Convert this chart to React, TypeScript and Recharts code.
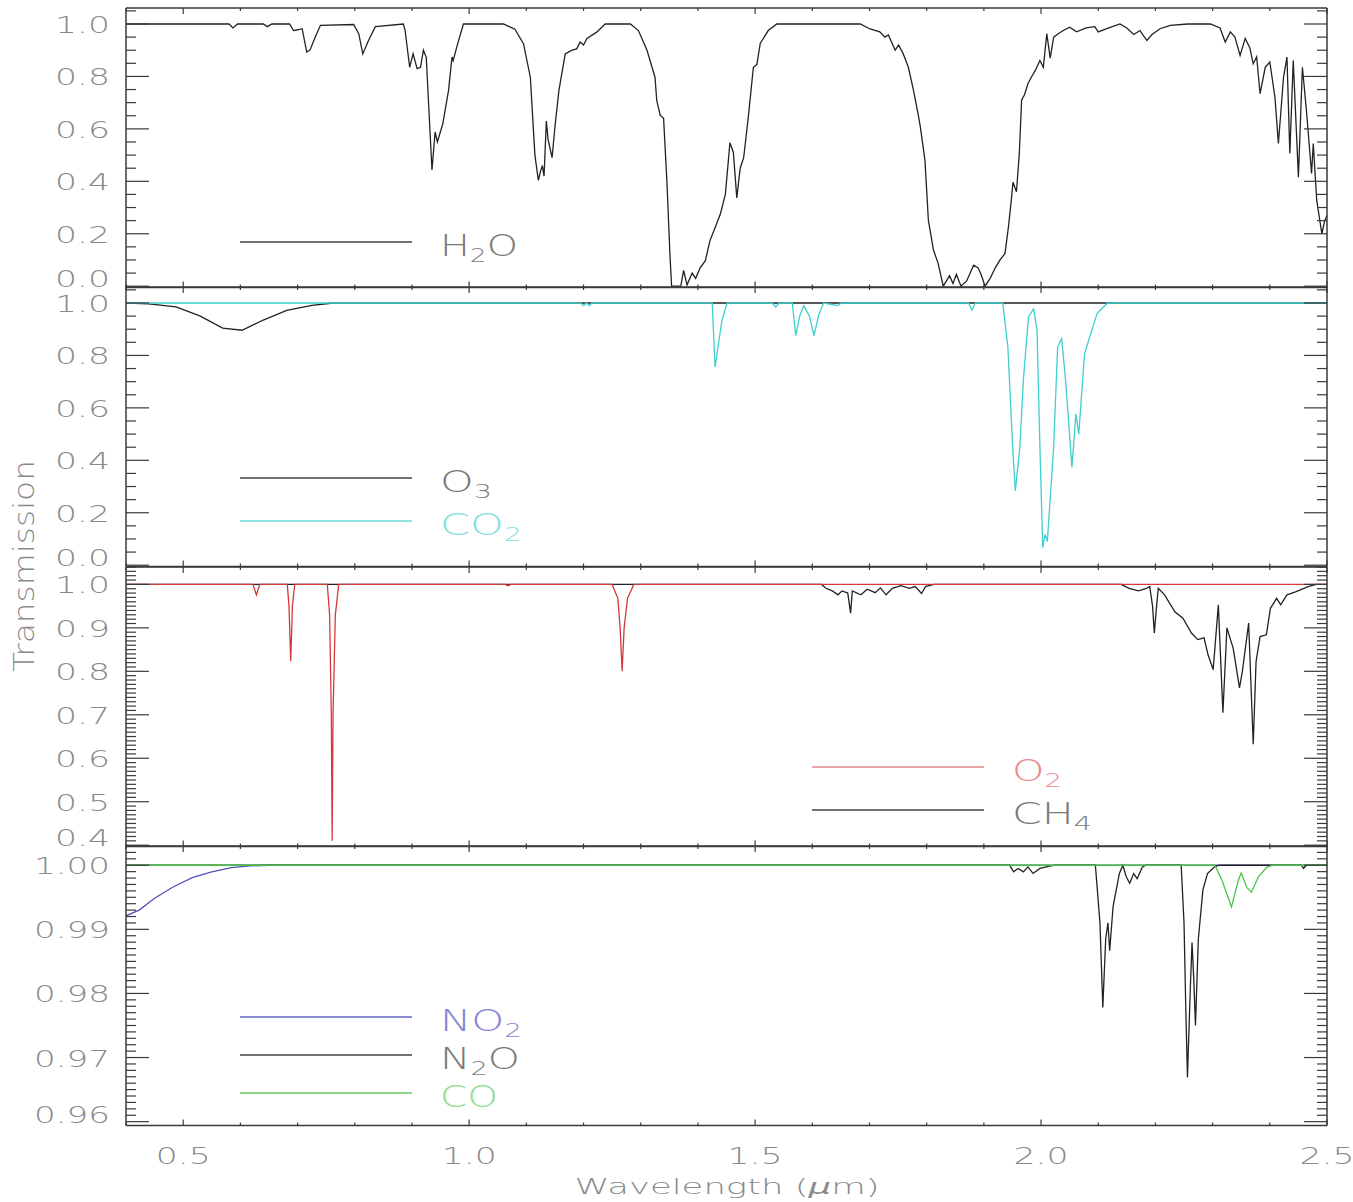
import React from "react";
import { LineChart, Line, XAxis, YAxis } from "recharts";

type Pt = [number, number];

// transmission spectra: [wavelength (µm), transmission]
const h2o: Pt[] = [
  [0.4, 1.0], [0.58, 1.0], [0.587, 0.985], [0.595, 1.0], [0.64, 1.0], [0.647, 0.99], [0.655, 1.0],
  [0.686, 1.0], [0.693, 0.975], [0.7, 0.978], [0.708, 0.982], [0.716, 0.893], [0.722, 0.902],
  [0.731, 0.95], [0.74, 0.995], [0.798, 0.998], [0.807, 0.963], [0.814, 0.886], [0.824, 0.937],
  [0.836, 0.99], [0.885, 1.0], [0.888, 0.976], [0.896, 0.835], [0.902, 0.886], [0.909, 0.83],
  [0.915, 0.835], [0.92, 0.9], [0.925, 0.873], [0.935, 0.443], [0.9405, 0.588], [0.9445, 0.55],
  [0.954, 0.62], [0.964, 0.747], [0.97, 0.874], [0.972, 0.86], [0.98, 0.925], [0.99, 1.0],
  [1.06, 1.0], [1.08, 0.98], [1.095, 0.925], [1.107, 0.797], [1.115, 0.5], [1.121, 0.404],
  [1.125, 0.44], [1.128, 0.46], [1.131, 0.42], [1.135, 0.63], [1.138, 0.56], [1.145, 0.49],
  [1.15, 0.607], [1.157, 0.747], [1.168, 0.886], [1.18, 0.9], [1.188, 0.905], [1.194, 0.931],
  [1.2, 0.92], [1.206, 0.945], [1.223, 0.969], [1.238, 1.0], [1.282, 1.0], [1.296, 0.975],
  [1.311, 0.9], [1.325, 0.797], [1.328, 0.709], [1.334, 0.652], [1.34, 0.64], [1.346, 0.391],
  [1.351, 0.125], [1.354, 0.0], [1.37, 0.0], [1.375, 0.06], [1.381, 0.005], [1.39, 0.05],
  [1.396, 0.03], [1.404, 0.07], [1.413, 0.097], [1.421, 0.173], [1.43, 0.223], [1.439, 0.273],
  [1.448, 0.35], [1.456, 0.547], [1.462, 0.51], [1.468, 0.337], [1.474, 0.451], [1.48, 0.49],
  [1.488, 0.642], [1.497, 0.835], [1.503, 0.845], [1.509, 0.926], [1.523, 0.975], [1.538, 1.0],
  [1.684, 1.0], [1.701, 0.981], [1.718, 0.97], [1.727, 0.95], [1.733, 0.958], [1.745, 0.9],
  [1.751, 0.92], [1.759, 0.886], [1.768, 0.835], [1.777, 0.747], [1.786, 0.645], [1.789, 0.607],
  [1.797, 0.48], [1.803, 0.251], [1.812, 0.137], [1.82, 0.087], [1.829, 0.0], [1.84, 0.04],
  [1.846, 0.01], [1.852, 0.045], [1.86, 0.0], [1.87, 0.02], [1.882, 0.08], [1.89, 0.07],
  [1.896, 0.04], [1.902, 0.0], [1.911, 0.03], [1.92, 0.07], [1.928, 0.099], [1.937, 0.125],
  [1.943, 0.226], [1.948, 0.328], [1.951, 0.397], [1.957, 0.36], [1.962, 0.506], [1.966, 0.709],
  [1.971, 0.73], [1.977, 0.772], [1.983, 0.797], [1.99, 0.823], [1.998, 0.861], [2.004, 0.835],
  [2.01, 0.963], [2.016, 0.87], [2.022, 0.95], [2.03, 0.963], [2.039, 0.975], [2.05, 0.988],
  [2.062, 0.97], [2.079, 0.985], [2.094, 0.99], [2.1, 0.97], [2.115, 0.982], [2.138, 1.0],
  [2.15, 0.985], [2.162, 0.96], [2.173, 0.975], [2.185, 0.937], [2.194, 0.96], [2.208, 0.982],
  [2.226, 0.995], [2.256, 1.0], [2.296, 1.0], [2.313, 0.985], [2.322, 0.931], [2.331, 0.97],
  [2.339, 0.95], [2.348, 0.88], [2.357, 0.945], [2.365, 0.91], [2.371, 0.848], [2.377, 0.875],
  [2.383, 0.734], [2.392, 0.835], [2.4, 0.855], [2.409, 0.72], [2.415, 0.544], [2.424, 0.797],
  [2.43, 0.874], [2.435, 0.506], [2.441, 0.861], [2.45, 0.416], [2.457, 0.835], [2.464, 0.671],
  [2.473, 0.43], [2.476, 0.544], [2.482, 0.328], [2.491, 0.2], [2.496, 0.25], [2.5, 0.27],
];

const o3: Pt[] = [
  [0.4, 1.0], [0.44, 0.997], [0.4875, 0.985], [0.53, 0.95], [0.569, 0.904], [0.603, 0.896],
  [0.64, 0.935], [0.681, 0.972], [0.725, 0.991], [0.7625, 1.0], [2.5, 1.0],
];

const co2: Pt[] = [
  [0.4, 1.0], [1.195, 1.0], [1.2, 0.99], [1.205, 1.0], [1.21, 0.99], [1.215, 1.0], [1.425, 1.0],
  [1.43, 0.755], [1.442, 0.934], [1.451, 1.0], [1.53, 1.0], [1.536, 0.985], [1.542, 1.0],
  [1.565, 1.0], [1.571, 0.876], [1.578, 0.95], [1.585, 0.99], [1.595, 0.95], [1.603, 0.876],
  [1.612, 0.96], [1.62, 1.0], [1.645, 0.99], [1.65, 1.0], [1.873, 1.0], [1.879, 0.972],
  [1.885, 1.0], [1.933, 1.0], [1.942, 0.832], [1.951, 0.424], [1.955, 0.284], [1.963, 0.45],
  [1.969, 0.704], [1.978, 0.946], [1.987, 0.978], [1.993, 0.896], [1.998, 0.45], [2.003, 0.067],
  [2.007, 0.118], [2.011, 0.09], [2.022, 0.45], [2.029, 0.832], [2.036, 0.864], [2.043, 0.704],
  [2.054, 0.373], [2.061, 0.577], [2.066, 0.5], [2.076, 0.806], [2.085, 0.87], [2.098, 0.96],
  [2.116, 1.0], [2.5, 1.0],
];

const o2: Pt[] = [
  [0.4, 1.0], [0.622, 1.0], [0.628, 0.976], [0.634, 1.0], [0.682, 1.0], [0.685, 0.95],
  [0.688, 0.823], [0.691, 0.95], [0.695, 1.0], [0.752, 1.0], [0.756, 0.93], [0.759, 0.7],
  [0.7605, 0.41], [0.762, 0.7], [0.766, 0.93], [0.772, 1.0], [1.063, 1.0], [1.068, 0.997],
  [1.073, 1.0], [1.25, 1.0], [1.26, 0.968], [1.264, 0.9], [1.2675, 0.8], [1.271, 0.9],
  [1.277, 0.968], [1.288, 1.0], [2.5, 1.0],
];

const ch4: Pt[] = [
  [0.4, 1.0], [1.616, 1.0], [1.624, 0.991], [1.635, 0.985], [1.645, 0.976], [1.652, 0.985],
  [1.662, 0.98], [1.667, 0.934], [1.67, 0.985], [1.685, 0.976], [1.696, 0.989], [1.71, 0.981],
  [1.719, 0.992], [1.729, 0.976], [1.74, 0.991], [1.755, 0.997], [1.77, 0.991], [1.78, 0.995],
  [1.791, 0.979], [1.798, 0.995], [1.8125, 1.0], [2.14, 1.0], [2.154, 0.991], [2.17, 0.985],
  [2.183, 0.99], [2.19, 0.995], [2.195, 0.95], [2.198, 0.888], [2.202, 0.95], [2.205, 0.991],
  [2.216, 0.976], [2.234, 0.937], [2.248, 0.922], [2.263, 0.888], [2.274, 0.873], [2.285, 0.877],
  [2.292, 0.838], [2.301, 0.804], [2.31, 0.953], [2.318, 0.705], [2.325, 0.9], [2.336, 0.853],
  [2.347, 0.762], [2.352, 0.8], [2.363, 0.911], [2.371, 0.632], [2.376, 0.823], [2.383, 0.88],
  [2.394, 0.884], [2.401, 0.945], [2.412, 0.968], [2.419, 0.953], [2.43, 0.976], [2.445, 0.983],
  [2.467, 0.995], [2.481, 1.0], [2.5, 1.0],
];

const no2: Pt[] = [
  [0.4, 0.99211], [0.423, 0.993], [0.45, 0.99485], [0.483, 0.99665], [0.517, 0.99809],
  [0.55, 0.99897], [0.584, 0.99964], [0.617, 0.9999], [0.65, 1.0], [2.5, 1.0],
];

const n2o: Pt[] = [
  [0.4, 1.0], [1.945, 1.0], [1.952, 0.99897], [1.96, 0.9995], [1.969, 0.99897], [1.977, 0.99974],
  [1.986, 0.99872], [1.998, 0.9995], [2.015, 0.99985], [2.025, 1.0], [2.095, 1.0],
  [2.103, 0.99103], [2.108, 0.9778], [2.113, 0.98846], [2.117, 0.99103], [2.12, 0.98667],
  [2.126, 0.99359], [2.137, 0.99872], [2.143, 1.0], [2.149, 0.9982], [2.155, 0.99718],
  [2.162, 0.9987], [2.168, 0.9979], [2.177, 0.9997], [2.183, 1.0], [2.245, 1.0], [2.25, 0.991],
  [2.253, 0.978], [2.256, 0.9669], [2.261, 0.98077], [2.264, 0.98795], [2.267, 0.98231],
  [2.27, 0.975], [2.275, 0.98846], [2.283, 0.99615], [2.291, 0.9987], [2.304, 0.9998],
  [2.312, 1.0], [2.455, 1.0], [2.459, 0.9995], [2.464, 1.0], [2.5, 1.0],
];

const co: Pt[] = [
  [0.4, 1.0], [2.304, 1.0], [2.317, 0.9975], [2.333, 0.9935], [2.345, 0.9977], [2.35, 0.9988],
  [2.36, 0.9965], [2.368, 0.9958], [2.38, 0.9982], [2.395, 0.9997], [2.405, 1.0], [2.5, 1.0],
];

const xMajorTicks = [0.5, 1.0, 1.5, 2.0, 2.5];
const yMajorWide = [0.0, 0.2, 0.4, 0.6, 0.8, 1.0];
const yMajorO2 = [0.4, 0.5, 0.6, 0.7, 0.8, 0.9, 1.0];
const yMajorTrace = [0.96, 0.97, 0.98, 0.99, 1.0];

const W = 1353;
const PLOT_LEFT = 126;
const PLOT_RIGHT = 1327;
const PANEL_H = 279.5;
const PANEL_TOP = 7.5;
const X_LABEL_H = 77;

const AXIS = "#3a3a3a";
const LABEL = "#8a8a8a";
const FONT = "'DejaVu Sans', Verdana, sans-serif";

const range = (a: number, b: number, step: number) => {
  const out: number[] = [];
  const n = Math.round((b - a) / step);
  for (let i = 0; i <= n; i++) out.push(+(a + i * step).toFixed(4));
  return out;
};
const isIn = (v: number, list: number[]) => list.some((m) => Math.abs(m - v) < 1e-6);
const labelWidth = (s: string) => [...s].reduce((w, c) => w + (c === "." ? 13 : 21), 0);

const xTicks = range(0.4, 2.5, 0.1);

type Series = { name: string; data: Pt[]; color: string };
type PanelSpec = {
  domain: [number, number];
  majors: number[];
  minors: number[];
  digits: number;
  series: Series[];
};

const panels: PanelSpec[] = [
  {
    domain: [-0.005, 1.061],
    majors: yMajorWide,
    minors: range(0, 1.05, 0.05),
    digits: 1,
    series: [{ name: "H2O", data: h2o, color: "#222" }],
  },
  {
    domain: [-0.005, 1.061],
    majors: yMajorWide,
    minors: range(0, 1.05, 0.05),
    digits: 1,
    series: [
      { name: "O3", data: o3, color: "#222" },
      { name: "CO2", data: co2, color: "#3fcfcf" },
    ],
  },
  {
    domain: [0.397, 1.04],
    majors: yMajorO2,
    minors: range(0.4, 1.04, 0.01),
    digits: 1,
    series: [
      { name: "CH4", data: ch4, color: "#222" },
      { name: "O2", data: o2, color: "#d23a3a" },
    ],
  },
  {
    domain: [0.9594, 1.003],
    majors: yMajorTrace,
    minors: range(0.96, 1.003, 0.001),
    digits: 2,
    series: [
      { name: "NO2", data: no2, color: "#5252bb" },
      { name: "N2O", data: n2o, color: "#222" },
      { name: "CO", data: co, color: "#45c445" },
    ],
  },
];

type LegendEntry = { text: string; line: string; color: string; x: number; y: number; width: number };

const legends: LegendEntry[] = [
  { text: "H2O", line: "#444", color: "#7a7a7a", x: 240, y: 242, width: 78 },
  { text: "O3", line: "#444", color: "#7a7a7a", x: 240, y: 478, width: 52 },
  { text: "CO2", line: "#6fd8d8", color: "#86e0e0", x: 240, y: 521, width: 82 },
  { text: "O2", line: "#e28888", color: "#ea8a8a", x: 812, y: 767, width: 50 },
  { text: "CH4", line: "#444", color: "#7a7a7a", x: 812, y: 810, width: 80 },
  { text: "NO2", line: "#6464c4", color: "#8484d4", x: 240, y: 1017, width: 82 },
  { text: "N2O", line: "#444", color: "#7a7a7a", x: 240, y: 1055, width: 80 },
  { text: "CO", line: "#66cc66", color: "#8edc8e", x: 240, y: 1093, width: 58 },
];

function Formula({ x, y, text, color, width }: { x: number; y: number; text: string; color: string; width: number }) {
  const parts = text.split(/(\d)/).filter(Boolean);
  let shifted = false;
  return (
    <text x={x} y={y} fill={color} fontSize={30} fontWeight={200} fontFamily={FONT} textLength={width} lengthAdjust="spacingAndGlyphs">
      {parts.map((s, i) => {
        const sub = /\d/.test(s);
        const dy = sub ? 6 : shifted ? -6 : 0;
        shifted = sub;
        return (
          <tspan key={i} dy={dy} fontSize={sub ? 20 : 30}>
            {s}
          </tspan>
        );
      })}
    </text>
  );
}

function Panel({ spec, top, last }: { spec: PanelSpec; top: number; last: boolean }) {
  const { domain, majors, minors, digits } = spec;
  // 1px boxes for the frame axes so that all four sides get drawn
  const bottomH = last ? X_LABEL_H : 1;

  const leftTick = (p: any) => {
    const v = p.payload.value;
    const major = isIn(v, majors);
    const label = v.toFixed(digits);
    const dy = Math.abs(v - majors[0]) < 1e-6 ? -7 : 1;
    return (
      <g>
        <line x1={p.x} x2={p.x + (major ? 23 : 10)} y1={p.y} y2={p.y} stroke={AXIS} strokeWidth={1.2} />
        {major && (
          <text
            x={p.x - 16}
            y={p.y + dy}
            textAnchor="end"
            dominantBaseline="central"
            fontSize={23}
            fontWeight={200}
            fontFamily={FONT}
            fill={LABEL}
            textLength={labelWidth(label)}
            lengthAdjust="spacingAndGlyphs"
          >
            {label}
          </text>
        )}
      </g>
    );
  };

  const rightTick = (p: any) => {
    const major = isIn(p.payload.value, majors);
    return <line x1={p.x} x2={p.x - (major ? 23 : 10)} y1={p.y} y2={p.y} stroke={AXIS} strokeWidth={1.2} />;
  };

  const topTick = (p: any) => {
    const major = isIn(p.payload.value, xMajorTicks);
    return <line x1={p.x} x2={p.x} y1={p.y} y2={p.y + (major ? 6 : 3)} stroke={AXIS} strokeWidth={1.2} />;
  };

  const bottomTick = (p: any) => {
    const v = p.payload.value;
    const major = isIn(v, xMajorTicks);
    const label = v.toFixed(1);
    return (
      <g>
        <line x1={p.x} x2={p.x} y1={p.y} y2={p.y - (major ? 6 : 3)} stroke={AXIS} strokeWidth={1.2} />
        {last && major && (
          <text
            x={p.x}
            y={p.y + 30}
            textAnchor="middle"
            dominantBaseline="central"
            fontSize={23}
            fontWeight={200}
            fontFamily={FONT}
            fill={LABEL}
            textLength={labelWidth(label)}
            lengthAdjust="spacingAndGlyphs"
          >
            {label}
          </text>
        )}
      </g>
    );
  };

  const frame = { stroke: AXIS, strokeWidth: 1.5 };

  return (
    <LineChart
      width={W}
      height={1 + PANEL_H + bottomH}
      margin={{ top: 0, right: W - PLOT_RIGHT - 1, bottom: 0, left: 0 }}
      style={{ position: "absolute", left: 0, top: top - 1 }}
    >
      <XAxis
        xAxisId="b"
        type="number"
        dataKey="w"
        domain={[0.4, 2.5]}
        allowDataOverflow
        ticks={xTicks}
        interval={0}
        height={bottomH}
        tickSize={0}
        tickMargin={0}
        tickLine={false}
        axisLine={frame}
        tick={bottomTick}
      />
      <XAxis
        xAxisId="t"
        orientation="top"
        type="number"
        dataKey="w"
        domain={[0.4, 2.5]}
        allowDataOverflow
        ticks={xTicks}
        interval={0}
        height={1}
        tickSize={0}
        tickMargin={0}
        tickLine={false}
        axisLine={frame}
        tick={topTick}
      />
      <YAxis
        yAxisId="l"
        type="number"
        domain={domain}
        allowDataOverflow
        ticks={minors}
        interval={0}
        width={PLOT_LEFT}
        tickSize={0}
        tickMargin={0}
        tickLine={false}
        axisLine={frame}
        tick={leftTick}
      />
      <YAxis
        yAxisId="r"
        orientation="right"
        type="number"
        domain={domain}
        allowDataOverflow
        ticks={minors}
        interval={0}
        width={1}
        tickSize={0}
        tickMargin={0}
        tickLine={false}
        axisLine={frame}
        tick={rightTick}
      />
      {spec.series.map((s) => (
        <Line
          key={s.name}
          xAxisId="b"
          yAxisId="l"
          name={s.name}
          data={s.data.map(([w, t]) => ({ w, t }))}
          dataKey="t"
          type="linear"
          stroke={s.color}
          strokeWidth={1.3}
          dot={false}
          activeDot={false}
          isAnimationActive={false}
        />
      ))}
    </LineChart>
  );
}

export default function App() {
  return (
    <div style={{ position: "absolute", left: 0, top: 0, width: W, height: 1202, background: "#fff" }}>
      <style>{`.recharts-surface { overflow: visible; }`}</style>
      {panels.map((spec, i) => (
        <Panel key={i} spec={spec} top={PANEL_TOP + i * PANEL_H} last={i === panels.length - 1} />
      ))}
      <svg width={W} height={1202} style={{ position: "absolute", left: 0, top: 0, pointerEvents: "none" }}>
        {legends.map((l) => (
          <g key={l.text}>
            <line x1={l.x} x2={l.x + 172} y1={l.y} y2={l.y} stroke={l.line} strokeWidth={1.3} />
            <Formula x={l.x + 200} y={l.y + 14} text={l.text} color={l.color} width={l.width} />
          </g>
        ))}
        <text
          transform="translate(24 566) rotate(-90)"
          textAnchor="middle"
          dominantBaseline="central"
          fontSize={28}
          fontWeight={200}
          fontFamily={FONT}
          fill={LABEL}
          textLength={212}
          lengthAdjust="spacingAndGlyphs"
        >
          Transmission
        </text>
        <text
          x={727}
          y={1186}
          textAnchor="middle"
          dominantBaseline="central"
          fontSize={22}
          fontWeight={200}
          fontFamily={FONT}
          fill={LABEL}
          textLength={305}
          lengthAdjust="spacingAndGlyphs"
        >
          Wavelength (<tspan fontStyle="italic">µ</tspan>m)
        </text>
      </svg>
    </div>
  );
}
